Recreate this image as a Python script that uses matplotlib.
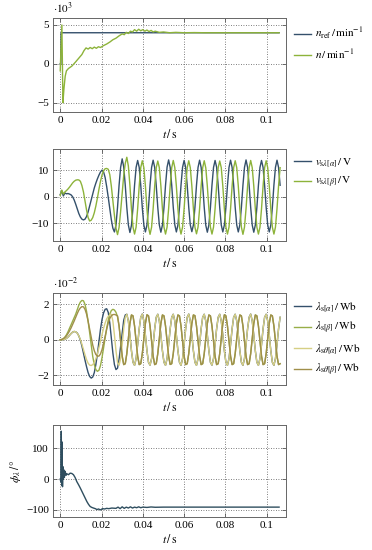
import matplotlib as m
m.use("Agg")
import matplotlib.pyplot as plt
import numpy as np

plt.rcParams['font.family'] = ['Liberation Serif', 'DejaVu Serif']
plt.rcParams['mathtext.fontset'] = 'stix'
plt.rcParams['font.size'] = 8

BLUE = '#34506b'
GREEN = '#8db33a'
LGREEN = '#98ae48'
YELLOW = '#d6cf84'
BROWN = '#a08f4a'

# ---- data ----
xticks = [0, 0.02, 0.04, 0.06, 0.08, 0.1]
xticklabels = ['0', '0.02', '0.04', '0.06', '0.08', '0.1']

# speed (x 10^3 min^-1)
t_nref = [0, 0.0003, 0.0004, 0.106]
n_ref = [0, 0, 4, 4]
t_n = [0, 0.0003, 0.0008, 0.0013, 0.0018, 0.0024, 0.003, 0.004, 0.0056, 0.0073,
       0.0089, 0.0105, 0.0115, 0.0125, 0.0135, 0.0145, 0.0155, 0.0165, 0.0175, 0.0185,
       0.0195, 0.021, 0.0225, 0.024, 0.0255, 0.027, 0.0285, 0.03, 0.031, 0.032,
       0.033, 0.034, 0.035, 0.036, 0.037, 0.038, 0.039, 0.040, 0.041, 0.042,
       0.043, 0.044, 0.045, 0.046, 0.048, 0.05, 0.053, 0.056, 0.06, 0.065,
       0.07, 0.08, 0.09, 0.1, 0.106]
n = [-0.9, 1.5, 5.0, -5.0, -3.2, -1.6, -0.9, -0.6, -0.3, 0.2,
     0.7, 1.2, 1.7, 2.05, 1.9, 2.1, 1.95, 2.15, 2.0, 2.2,
     2.1, 2.35, 2.55, 2.8, 3.1, 3.3, 3.6, 3.85, 3.75, 4.05,
     3.9, 4.2, 4.1, 4.4, 4.2, 4.45, 4.25, 4.4, 4.2, 4.35,
     4.15, 4.3, 4.1, 4.2, 4.05, 4.1, 4.0, 4.05, 4.0, 4.02,
     4.0, 4.0, 4.0, 4.0, 4.0]

# sample instants of the voltage / flux records (0.75 ms step)
t_s = np.arange(143) * 0.00075

v_a = [0.8, 2.2, 0.3, 1.4, 1.1, 1.2, 1.0, 0.7, 0.0, -1.2,
       -2.8, -4.6, -6.3, -7.6, -8.4, -8.7, -8.4, -7.4, -5.7, -3.5,
       -1.2, 1.1, 3.3, 5.1, 6.7, 8.1, 9.3, 10.0, 9.3, 7.2,
       3.8, -0.2, -4.5, -8.6, -11.8, -13.2, -10.6, -4.0, 4.3, 11.0,
       14.2, 11.2, 4.3, -4.0, -10.6, -13.4, -10.7, -4.0, 4.3, 11.0,
       13.6, 11.0, 4.3, -4.1, -10.6, -13.2, -10.6, -4.0, 4.3, 11.0,
       13.7, 11.0, 4.2, -4.0, -10.6, -13.3, -10.6, -4.0, 4.3, 11.1,
       13.8, 11.0, 4.3, -4.0, -10.5, -13.2, -10.6, -4.0, 4.3, 11.0,
       13.6, 11.0, 4.3, -4.0, -10.6, -13.1, -10.6, -4.0, 4.3, 11.0,
       13.7, 11.0, 4.3, -4.0, -10.7, -13.3, -10.6, -4.0, 4.3, 11.0,
       13.6, 11.1, 4.3, -4.0, -10.6, -13.2, -10.6, -4.0, 4.2, 11.0,
       13.7, 11.0, 4.3, -4.0, -10.6, -13.2, -10.5, -4.0, 4.3, 11.0,
       13.8, 11.0, 4.3, -4.0, -10.6, -13.3, -10.6, -4.0, 4.3, 11.0,
       13.6, 11.0, 4.3, -4.0, -10.6, -13.2, -10.6, -4.0, 4.3, 11.0,
       13.7, 11.0, 4.3]
v_b = [0.5, 2.5, 1.0, 1.8, 2.3, 2.9, 3.6, 4.4, 5.2, 5.8,
       6.2, 6.35, 6.3, 5.8, 4.2, 1.8, -1.5, -5.0, -7.8, -9.1,
       -8.8, -7.8, -6.0, -3.5, -0.5, 2.8, 5.8, 8.2, 9.8, 10.5,
       10.6, 10.3, 8.3, 4.0, -1.5, -7.0, -11.8, -14.2, -11.5, -5.5,
       1.5, 8.0, 12.5, 14.8, 11.5, 4.3, -4.5, -11.4, -14.0, -11.4,
       -4.5, 4.0, 10.9, 13.5, 10.9, 4.0, -4.5, -11.4, -14.1, -11.4,
       -4.5, 4.0, 10.9, 13.4, 10.9, 4.0, -4.5, -11.4, -14.0, -11.4,
       -4.5, 4.0, 10.9, 13.6, 10.9, 4.0, -4.5, -11.3, -14.0, -11.4,
       -4.5, 4.0, 10.9, 13.5, 10.9, 4.0, -4.5, -11.4, -13.9, -11.4,
       -4.5, 4.0, 10.9, 13.5, 10.8, 4.0, -4.5, -11.4, -14.0, -11.4,
       -4.5, 4.0, 10.9, 13.4, 10.9, 4.0, -4.5, -11.4, -14.0, -11.4,
       -4.5, 4.0, 10.9, 13.5, 10.9, 4.0, -4.5, -11.4, -14.1, -11.4,
       -4.5, 4.0, 10.9, 13.6, 10.9, 4.0, -4.5, -11.4, -14.0, -11.4,
       -4.5, 4.0, 10.9, 13.5, 10.9, 4.0, -4.5, -11.4, -14.0, -11.4,
       -4.5, 4.0, 10.9]

# flux linkages (x 10^-2 Wb)
lam_s_a = [0, 0, 0.01, 0.03, 0.08, 0.15, 0.25, 0.35, 0.43, 0.47,
           0.45, 0.38, 0.22, -0.02, -0.35, -0.75, -1.15, -1.52, -1.85, -2.07,
           -2.16, -2.1, -1.85, -1.4, -0.8, -0.1, 0.6, 1.15, 1.52, 1.72,
           1.75, 1.55, 0.95, 0.1, -0.75, -1.4, -1.68, -1.6, -1.1, -0.35,
           0.45, 1.1, 1.4, 1.44, 1.06, 0.27, -0.62, -1.27, -1.44, -1.06,
           -0.27, 0.62, 1.27, 1.45, 1.06, 0.27, -0.62, -1.27, -1.43, -1.06,
           -0.27, 0.62, 1.27, 1.44, 1.06, 0.27, -0.62, -1.27, -1.44, -1.06,
           -0.27, 0.62, 1.27, 1.44, 1.06, 0.27, -0.62, -1.27, -1.44, -1.06,
           -0.27, 0.62, 1.27, 1.45, 1.06, 0.27, -0.62, -1.27, -1.44, -1.06,
           -0.27, 0.62, 1.27, 1.44, 1.06, 0.27, -0.62, -1.27, -1.43, -1.06,
           -0.27, 0.62, 1.27, 1.44, 1.06, 0.27, -0.62, -1.27, -1.44, -1.06,
           -0.27, 0.62, 1.27, 1.44, 1.06, 0.27, -0.62, -1.27, -1.44, -1.06,
           -0.27, 0.62, 1.27, 1.45, 1.06, 0.27, -0.62, -1.27, -1.44, -1.06,
           -0.27, 0.62, 1.27, 1.44, 1.06, 0.27, -0.62, -1.27, -1.44, -1.06,
           -0.27, 0.62, 1.27]
lam_s_b = [0, 0.02, 0.06, 0.15, 0.28, 0.45, 0.65, 0.85, 1.05, 1.25,
           1.45, 1.7, 1.95, 2.13, 2.22, 2.2, 2.0, 1.6, 1.05, 0.4,
           -0.3, -0.95, -1.4, -1.68, -1.78, -1.72, -1.45, -1.0, -0.45, 0.1,
           0.65, 1.1, 1.45, 1.65, 1.72, 1.68, 1.55, 1.3, 0.78, -0.09,
           -0.92, -1.40, -1.35, -0.78, 0.09, 0.92, 1.40, 1.35, 0.78, -0.09,
           -0.92, -1.40, -1.35, -0.78, 0.09, 0.92, 1.41, 1.35, 0.78, -0.09,
           -0.92, -1.40, -1.35, -0.78, 0.09, 0.92, 1.40, 1.35, 0.78, -0.09,
           -0.92, -1.39, -1.35, -0.78, 0.09, 0.92, 1.40, 1.35, 0.78, -0.09,
           -0.92, -1.40, -1.35, -0.78, 0.09, 0.92, 1.40, 1.36, 0.78, -0.09,
           -0.92, -1.40, -1.35, -0.78, 0.09, 0.92, 1.40, 1.35, 0.78, -0.09,
           -0.92, -1.40, -1.35, -0.78, 0.09, 0.92, 1.41, 1.35, 0.78, -0.09,
           -0.92, -1.40, -1.35, -0.78, 0.09, 0.92, 1.40, 1.35, 0.78, -0.09,
           -0.92, -1.40, -1.35, -0.78, 0.09, 0.92, 1.40, 1.35, 0.78, -0.09,
           -0.92, -1.40, -1.35, -0.78, 0.09, 0.92, 1.40, 1.35, 0.78, -0.09,
           -0.92, -1.40, -1.35]
lam_st_a = [0, 0, 0.01, 0.03, 0.08, 0.15, 0.25, 0.35, 0.43, 0.47,
            0.45, 0.37, 0.22, 0.02, -0.25, -0.55, -0.85, -1.12, -1.32, -1.43,
            -1.45, -1.4, -1.28, -1.08, -0.8, -0.45, -0.08, 0.3, 0.65, 0.95,
            1.18, 1.32, 1.4, 1.44, 1.06, 0.27, -0.62, -1.27, -1.44, -1.06,
            -0.27, 0.62, 1.27, 1.44, 1.06, 0.27, -0.62, -1.27, -1.44, -1.06,
            -0.27, 0.62, 1.27, 1.45, 1.06, 0.27, -0.62, -1.27, -1.43, -1.06,
            -0.27, 0.62, 1.27, 1.44, 1.06, 0.27, -0.62, -1.27, -1.44, -1.06,
            -0.27, 0.62, 1.27, 1.44, 1.06, 0.27, -0.62, -1.27, -1.44, -1.06,
            -0.27, 0.62, 1.27, 1.45, 1.06, 0.27, -0.62, -1.27, -1.44, -1.06,
            -0.27, 0.62, 1.27, 1.44, 1.06, 0.27, -0.62, -1.27, -1.43, -1.06,
            -0.27, 0.62, 1.27, 1.44, 1.06, 0.27, -0.62, -1.27, -1.44, -1.06,
            -0.27, 0.62, 1.27, 1.44, 1.06, 0.27, -0.62, -1.27, -1.44, -1.06,
            -0.27, 0.62, 1.27, 1.45, 1.06, 0.27, -0.62, -1.27, -1.44, -1.06,
            -0.27, 0.62, 1.27, 1.44, 1.06, 0.27, -0.62, -1.27, -1.44, -1.06,
            -0.27, 0.62, 1.27]
lam_st_b = [0, 0.02, 0.06, 0.13, 0.22, 0.35, 0.5, 0.67, 0.86, 1.06,
            1.27, 1.48, 1.67, 1.8, 1.87, 1.86, 1.72, 1.45, 1.05, 0.6,
            0.12, -0.3, -0.62, -0.83, -0.92, -0.92, -0.8, -0.55, -0.2, 0.2,
            0.6, 0.95, 1.2, 1.35, 1.42, 1.43, 1.40, 1.35, 0.78, -0.09,
            -0.92, -1.40, -1.35, -0.78, 0.09, 0.92, 1.40, 1.35, 0.78, -0.09,
            -0.92, -1.40, -1.35, -0.78, 0.09, 0.92, 1.41, 1.35, 0.78, -0.09,
            -0.92, -1.40, -1.35, -0.78, 0.09, 0.92, 1.40, 1.35, 0.78, -0.09,
            -0.92, -1.39, -1.35, -0.78, 0.09, 0.92, 1.40, 1.35, 0.78, -0.09,
            -0.92, -1.40, -1.35, -0.78, 0.09, 0.92, 1.40, 1.36, 0.78, -0.09,
            -0.92, -1.40, -1.35, -0.78, 0.09, 0.92, 1.40, 1.35, 0.78, -0.09,
            -0.92, -1.40, -1.35, -0.78, 0.09, 0.92, 1.41, 1.35, 0.78, -0.09,
            -0.92, -1.40, -1.35, -0.78, 0.09, 0.92, 1.40, 1.35, 0.78, -0.09,
            -0.92, -1.40, -1.35, -0.78, 0.09, 0.92, 1.40, 1.35, 0.78, -0.09,
            -0.92, -1.40, -1.35, -0.78, 0.09, 0.92, 1.40, 1.35, 0.78, -0.09,
            -0.92, -1.40, -1.35]

# flux angle (deg)
t_phi = [0, 0.0003, 0.0005, 0.0007, 0.0009, 0.0011, 0.0013, 0.0015, 0.0017, 0.002,
         0.0024, 0.0028, 0.0032, 0.004, 0.0048, 0.0056, 0.0064, 0.0072, 0.008, 0.009,
         0.0097, 0.0105, 0.0113, 0.0121, 0.0129, 0.0137, 0.0145, 0.0153, 0.0161, 0.017,
         0.0178, 0.0185, 0.0195, 0.0205, 0.0215, 0.0225, 0.0235, 0.025, 0.027, 0.028,
         0.029, 0.030, 0.031, 0.032, 0.033, 0.034, 0.035, 0.036, 0.037, 0.038,
         0.039, 0.04, 0.042, 0.044, 0.046, 0.05, 0.055, 0.06, 0.07, 0.08,
         0.09, 0.1, 0.106]
phi = [0, -10, 155, -20, 120, -25, 40, 0, 30, 5,
       25, 12, 17, 14, 19, 18, 14, 5, -8, -20,
       -29, -40, -51, -62, -73, -82, -89, -92, -94, -96,
       -99, -97, -100, -96, -97, -95, -96, -94, -95, -91,
       -96, -90, -95, -91, -94, -90, -94, -91, -93, -90,
       -93, -91, -92, -90.5, -91.5, -91, -91, -91, -91, -91,
       -91, -91, -91]


def style(ax, yticks, ylim):
    ax.set_xlim(-0.0035, 0.1093)
    ax.set_ylim(*ylim)
    ax.set_xticks(xticks)
    ax.set_xticklabels(xticklabels)
    ax.set_yticks(yticks)
    ax.grid(True, color='#555555', linestyle=(0, (1, 2)), linewidth=0.6)
    ax.tick_params(direction='in', top=True, right=True, length=3,
                   width=0.6, color='#555555', pad=3, labelsize=8)
    for s in ax.spines.values():
        s.set_color('#666666')
        s.set_linewidth(0.7)
    ax.set_xlabel(r'$t\,/\,\mathrm{s}$', fontsize=8.5, labelpad=2)


def legend(ax):
    ax.legend(loc='upper left', bbox_to_anchor=(1.0, 1.0), frameon=False,
              handlelength=1.6, handletextpad=0.3, borderaxespad=0.3,
              labelspacing=0.55, fontsize=8)


fig = plt.figure(figsize=(3.72, 5.5), dpi=100)
left, width = 0.1425, 0.626

ax1 = fig.add_axes([left, 0.7964, width, 0.1709])
ax1.plot(t_nref, n_ref, color=BLUE, lw=1.0, label=r'$n_{\mathrm{ref}}\,/\,\mathrm{min}^{-1}$')
ax1.plot(t_n, n, color=GREEN, lw=1.0, label=r'$n\,/\,\mathrm{min}^{-1}$')
style(ax1, [-5, 0, 5], (-6.2, 5.9))
ax1.text(0.0, 1.02, r'$\cdot 10^{3}$', transform=ax1.transAxes, ha='left', va='bottom', fontsize=8)
legend(ax1)

ax2 = fig.add_axes([left, 0.5618, width, 0.1673])
ax2.plot(t_s, v_a, color=BLUE, lw=1.0, label=r'$v_{\mathrm{s}\lambda[\alpha]}\,/\,\mathrm{V}$')
ax2.plot(t_s, v_b, color=GREEN, lw=1.0, label=r'$v_{\mathrm{s}\lambda[\beta]}\,/\,\mathrm{V}$')
style(ax2, [-10, 0, 10], (-16.6, 17.9))
legend(ax2)

ax3 = fig.add_axes([left, 0.30, width, 0.1673])
ax3.plot(t_s, lam_s_a, color=BLUE, lw=1.0, label=r'$\lambda_{\mathrm{s}[\alpha]}\,/\,\mathrm{Wb}$')
ax3.plot(t_s, lam_s_b, color=LGREEN, lw=1.0, label=r'$\lambda_{\mathrm{s}[\beta]}\,/\,\mathrm{Wb}$')
ax3.plot(t_s, lam_st_a, color=YELLOW, lw=1.0, label=r'$\lambda_{\mathrm{s}\theta[\alpha]}\,/\,\mathrm{Wb}$')
ax3.plot(t_s, lam_st_b, color=BROWN, lw=1.0, label=r'$\lambda_{\mathrm{s}\theta[\beta]}\,/\,\mathrm{Wb}$')
style(ax3, [-2, 0, 2], (-2.55, 2.64))
ax3.text(0.0, 1.02, r'$\cdot 10^{-2}$', transform=ax3.transAxes, ha='left', va='bottom', fontsize=8)
legend(ax3)

ax4 = fig.add_axes([left, 0.06, width, 0.1673])
ax4.plot(t_phi, phi, color='#2f4e5f', lw=1.0)
style(ax4, [-100, 0, 100], (-123, 175))
ax4.set_ylabel(r'$\phi_{\lambda}\,/\,°$', fontsize=8.5, labelpad=2)

fig.savefig('out.png', dpi=100)
